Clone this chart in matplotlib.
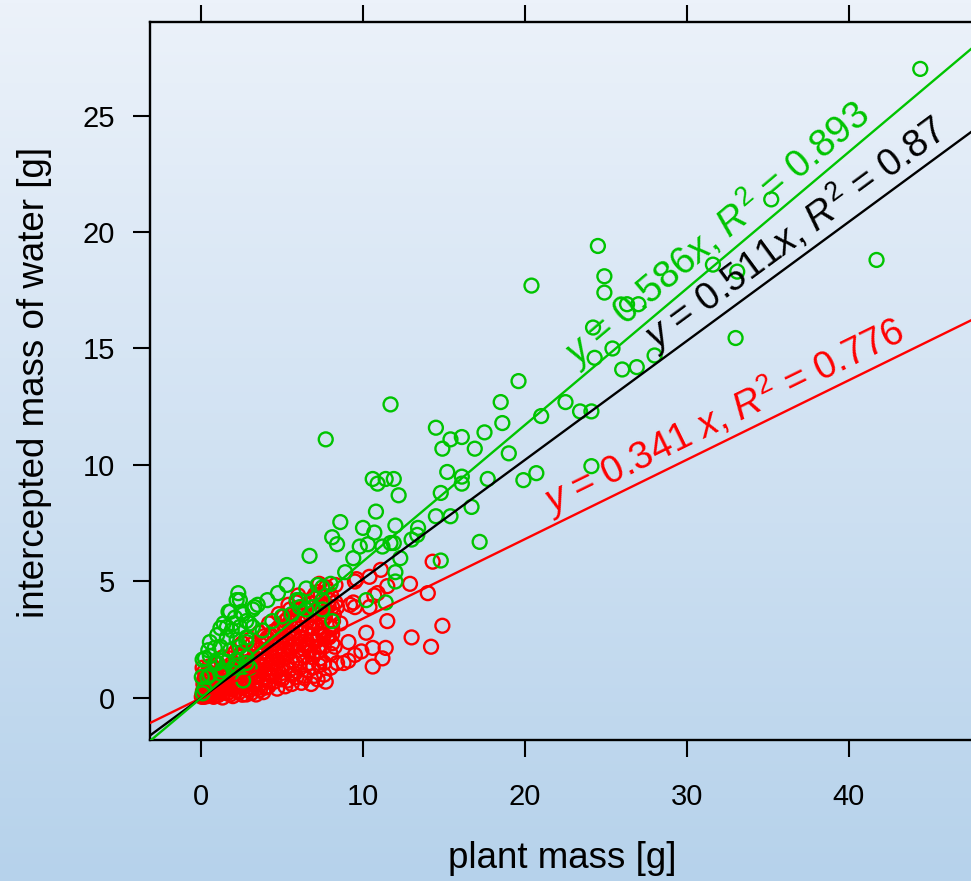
import numpy as np
import matplotlib
matplotlib.use("Agg")
import matplotlib.pyplot as plt
from matplotlib.colors import LinearSegmentedColormap

plt.rcParams['font.family'] = ['Liberation Sans', 'DejaVu Sans']
plt.rcParams['mathtext.fontset'] = 'custom'
plt.rcParams['mathtext.rm'] = 'Liberation Sans'
plt.rcParams['mathtext.it'] = 'Liberation Sans:italic'

# ---------------- data ----------------
xlabel = "plant mass [g]"
ylabel = "intercepted mass of water [g]"
xticks = [0, 10, 20, 30, 40]
yticks = [0, 5, 10, 15, 20, 25]

# green series (x, y)
green_pts = [
    (44.4, 27.0), (41.7, 18.8), (35.2, 21.4), (33.0, 15.45), (33.1, 18.3), (31.6, 18.6),
    (24.5, 19.4), (24.9, 18.1), (24.9, 17.4), (20.4, 17.7), (27.0, 16.9), (26.3, 16.9),
    (24.2, 15.9), (25.4, 15.0), (24.3, 14.6), (26.0, 14.1), (26.9, 14.2), (28.0, 14.7),
    (22.5, 12.7), (23.4, 12.3), (24.1, 12.3), (21.0, 12.1), (19.6, 13.6), (18.5, 12.7),
    (18.6, 11.8), (17.5, 11.4), (19.0, 10.5), (17.7, 9.4), (19.9, 9.35), (20.7, 9.65),
    (24.1, 9.95), (17.2, 6.7), (11.7, 12.6), (7.7, 11.1), (14.5, 11.6), (15.4, 11.1),
    (16.1, 11.2), (14.9, 10.7), (16.9, 10.7), (15.2, 9.7), (16.1, 9.5), (16.1, 9.2),
    (10.6, 9.4), (10.9, 9.2), (11.4, 9.4), (11.9, 9.4), (12.2, 8.7), (14.8, 8.8),
    (10.8, 8.0), (16.7, 8.2), (14.5, 7.8), (15.4, 7.8), (8.6, 7.55), (10.0, 7.3),
    (10.7, 7.1), (12.0, 7.4), (13.4, 7.3), (13.35, 7.0), (8.1, 6.9), (8.4, 6.6),
    (6.7, 6.1), (9.4, 6.0), (9.8, 6.5), (10.3, 6.6), (11.2, 6.5), (11.7, 6.65),
    (11.9, 6.65), (13.0, 6.8), (12.3, 6.0), (14.8, 5.9), (8.9, 5.4), (12.0, 5.4),
    (12.0, 5.0), (6.5, 4.7), (7.2, 4.85), (8.0, 4.9), (6.1, 4.2), (7.5, 4.2),
    (7.5, 3.8), (6.9, 3.9), (10.2, 4.2), (11.4, 4.1), (8.1, 3.3), (7.5, 4.75),
    (5.9, 4.2), (6.1, 3.9), (6.5, 3.8), (5.3, 4.85), (4.75, 4.5), (4.1, 4.2),
    (3.5, 4.0), (3.3, 3.9), (2.3, 4.5), (2.2, 4.2), (1.8, 3.7), (2.5, 3.7),
    (2.1, 3.45), (1.4, 3.2), (1.9, 2.9), (2.4, 3.05), (3.0, 3.2), (3.2, 3.05),
    (1.0, 2.7), (1.6, 2.6), (2.2, 2.5), (2.8, 2.6), (0.55, 2.4), (1.2, 2.2),
    (1.8, 2.05), (2.4, 2.2), (0.1, 1.65), (0.55, 1.8), (1.0, 1.5), (1.6, 1.55),
    (2.2, 1.65), (0.05, 0.9), (0.55, 1.0), (1.3, 1.2), (2.0, 1.3), (2.8, 1.75),
    (3.0, 1.3), (2.6, 0.75), (1.2, 3.0), (1.6, 3.05), (2.0, 3.2), (2.8, 3.3),
    (0.45, 2.05), (0.85, 2.15), (2.8, 2.4), (0.25, 1.7), (0.85, 1.5), (1.35, 1.6),
    (2.2, 1.4), (2.8, 1.5), (1.2, 1.05), (1.7, 3.7), (2.6, 3.6), (3.2, 3.8),
    (2.4, 4.2), (0.2, 0.4), (0.4, 0.9), (0.1, 0.2), (3.8, 2.9), (4.4, 3.3),
    (5.0, 3.5), (5.6, 3.6),
]

# red series (x, y)
red_pts = [
    (14.3, 5.85), (11.1, 5.5), (10.4, 5.2), (9.5, 5.0), (9.6, 5.1), (7.3, 4.9),
    (11.5, 4.8), (12.9, 4.9), (14.0, 4.5), (10.9, 4.5), (10.7, 4.4), (9.2, 4.0),
    (9.4, 4.1), (9.5, 3.9), (10.4, 3.9), (8.1, 3.9), (8.3, 4.1), (11.5, 3.3),
    (14.9, 3.1), (10.2, 2.8), (13.0, 2.6), (14.2, 2.2), (9.1, 2.4), (8.1, 2.35),
    (11.4, 2.15), (10.6, 2.15), (9.9, 2.0), (9.5, 1.85), (11.2, 1.7), (10.6, 1.35),
    (9.1, 1.6), (8.8, 1.5), (8.4, 1.5), (7.3, 1.4), (6.9, 1.3), (7.2, 0.8),
    (6.4, 0.85), (7.3, 2.0), (6.9, 1.75), (7.3, 2.7), (8.1, 3.0), (3.5, 0.43),
    (5.6, 1.0), (6.1, 1.7), (7.5, 3.3), (7.7, 3.7), (5.1, 3.5), (5.5, 3.8),
    (5.9, 4.1), (7.8, 4.6), (8.4, 3.9), (8.6, 3.2), (6.8, 0.6), (7.6, 1.0),
    (8.0, 1.9), (6.5, 2.3), (7.9, 2.6),
    (0.05, 0.05), (0.12, 0.30), (0.18, 0.10), (0.25, 0.55), (0.31, 0.22), (0.38, 0.08),
    (0.44, 0.41), (0.52, 0.75), (0.57, 0.15), (0.63, 0.33), (0.71, 0.60), (0.78, 0.05),
    (0.84, 0.95), (0.91, 0.27), (0.97, 0.48), (1.05, 0.12), (1.12, 0.70), (1.18, 1.15),
    (1.26, 0.35), (1.33, 0.02), (1.41, 0.88), (1.47, 0.52), (1.55, 1.30), (1.62, 0.20),
    (1.68, 0.66), (1.76, 1.02), (1.83, 0.41), (1.91, 1.48), (1.97, 0.08), (2.05, 0.80),
    (2.12, 1.21), (2.18, 0.30), (2.26, 1.65), (2.33, 0.57), (2.41, 0.98), (2.47, 1.38),
    (2.55, 0.14), (2.62, 1.83), (2.69, 0.72), (2.77, 1.12), (2.84, 0.40), (2.91, 1.55),
    (2.98, 2.00), (3.06, 0.88), (3.13, 0.22), (3.21, 1.30), (3.28, 1.76), (3.35, 0.60),
    (3.43, 2.18), (3.50, 1.02), (3.57, 1.48), (3.64, 0.35), (3.72, 1.92), (3.80, 2.40),
    (3.87, 0.78), (3.94, 1.22), (4.02, 1.68), (4.09, 2.58), (4.16, 0.50), (4.24, 2.10),
    (4.31, 1.00), (4.39, 1.45), (4.46, 2.85), (4.53, 0.70), (4.61, 1.88), (4.68, 2.35),
    (4.76, 1.20), (4.83, 3.05), (4.90, 0.90), (4.98, 1.65), (5.05, 2.62), (5.13, 2.10),
    (5.20, 3.30), (5.27, 1.35), (5.35, 0.75), (5.42, 1.92), (5.50, 2.85), (5.57, 3.55),
    (5.64, 1.55), (5.72, 2.32), (5.79, 1.05), (5.87, 3.10), (5.94, 2.05), (6.02, 3.75),
    (6.09, 1.28), (6.16, 2.60), (6.24, 3.38), (6.31, 1.80), (6.39, 0.95), (6.46, 2.95),
    (6.53, 4.00), (6.61, 2.25), (6.68, 1.50), (6.76, 3.55), (6.83, 2.70), (6.91, 4.30),
    (6.98, 1.95), (7.05, 3.20), (7.13, 2.45), (7.20, 4.55), (7.28, 3.80), (7.35, 1.70),
    (7.43, 2.90), (7.50, 4.20), (7.58, 2.20), (7.65, 3.45), (7.72, 4.75), (7.80, 2.60),
    (7.88, 3.95), (7.95, 3.10), (8.03, 4.40), (8.10, 2.75), (8.20, 3.60), (8.30, 4.85),
    (0.10, 0.15), (0.20, 0.05), (0.30, 0.40), (0.40, 0.20), (0.60, 0.50), (0.70, 0.25),
    (0.90, 0.10), (1.00, 0.60), (1.20, 0.20), (1.40, 0.45), (1.60, 0.90), (1.80, 0.15),
    (2.00, 0.50), (0.20, 0.80), (0.50, 1.10), (0.10, 1.30), (0.30, 1.00), (2.30, 2.20),
    (3.00, 2.50), (3.60, 2.80), (4.20, 3.20), (4.80, 3.60), (5.40, 4.00), (6.00, 4.40),
    (0.15, 0.60), (0.35, 0.70), (0.65, 0.90), (0.75, 0.40), (0.95, 0.75), (1.10, 0.40),
    (1.30, 0.65), (1.45, 0.25), (1.50, 0.75), (1.70, 0.40), (1.85, 0.75), (1.95, 1.10),
    (2.15, 0.60), (2.35, 0.25), (2.40, 1.20), (2.60, 0.45), (2.70, 1.40), (2.90, 0.65),
    (3.05, 1.60), (3.20, 0.45), (3.35, 0.95), (3.45, 1.55), (3.70, 0.60), (3.75, 1.40),
    (3.95, 2.00), (4.05, 0.90), (4.25, 1.30), (4.40, 2.30), (4.55, 1.10), (4.65, 1.55),
    (4.85, 2.40), (4.95, 1.25), (5.10, 1.85), (5.25, 2.55), (5.45, 1.20), (5.55, 2.20),
    (5.70, 2.75), (5.85, 1.50), (6.05, 2.30), (6.20, 3.00), (6.35, 2.10), (6.55, 3.30),
    (6.70, 2.00), (6.90, 3.00), (7.10, 3.60), (7.25, 2.20), (7.45, 3.95), (7.60, 1.50),
    (4.45, 0.95), (5.00, 0.80), (5.90, 0.90), (4.00, 0.45), (2.80, 0.15), (2.50, 1.95),
    (0.22, 1.15), (0.48, 1.35), (0.82, 1.25), (1.05, 1.45), (1.35, 1.75), (1.75, 1.70),
    (2.10, 1.95), (2.55, 2.35), (3.15, 2.30), (3.55, 2.05), (3.90, 2.65), (4.30, 2.70),
    (4.70, 2.95), (5.15, 3.05), (5.35, 3.40), (5.75, 3.30), (6.15, 3.55), (6.45, 3.85),
    (6.85, 4.05), (7.05, 4.45), (7.40, 4.45), (7.90, 4.20), (8.15, 3.30), (8.25, 2.20),
    (8.00, 1.30), (7.70, 0.70), (7.00, 0.95), (6.60, 1.20), (6.20, 0.65), (5.60, 0.60),
    (5.20, 0.50), (4.70, 0.40), (4.25, 0.70), (3.85, 0.25), (3.40, 0.15), (3.00, 0.35),
    (5.80, 2.55), (6.40, 2.55), (6.95, 2.45), (7.55, 2.65), (5.35, 2.25), (4.85, 2.05),
    (4.45, 1.75), (3.95, 1.55), (3.60, 1.15), (2.95, 1.05), (6.70, 3.05), (7.30, 3.05),
]

fit_slopes = [0.341, 0.511, 0.586]
fit_colors = ['#FF0000', '#000000', '#00C400']
fit_labels = [r"$y$ = 0.341 $x$, $R^2$ = 0.776",
              r"$y$ = 0.511$x$, $R^2$ = 0.87",
              r"$y$ = 0.586$x$, $R^2$ = 0.893"]
label_pos = [(32.6, 11.6), (37.1, 19.5), (32.3, 19.5)]

# ---------------- figure ----------------
fig = plt.figure(figsize=(9.71, 8.81), dpi=100)

bg = fig.add_axes([0, 0, 1, 1], zorder=-10)
grad = np.linspace(0, 1, 256).reshape(-1, 1)
cmap = LinearSegmentedColormap.from_list('bg', ['#ECF2FA', '#B6D2EB'])
bg.imshow(grad, aspect='auto', cmap=cmap, extent=[0, 1, 0, 1], origin='upper')
bg.axis('off')

ax = fig.add_axes([150 / 971, 141 / 881, 841 / 971, 718 / 881])
ax.set_facecolor('none')
ax.set_xlim(-3.148, -3.148 + 841 / 16.2)
ax.set_ylim(-1.803, 29.013)

rx, ry = zip(*red_pts)
gx, gy = zip(*green_pts)
ax.scatter(rx, ry, s=100, facecolors='none', edgecolors='#FF0000', linewidths=1.7, zorder=2)
ax.scatter(gx, gy, s=100, facecolors='none', edgecolors='#00C400', linewidths=1.7, zorder=3)

xs = np.array(ax.get_xlim())
for slope, col in zip(fit_slopes, fit_colors):
    ax.plot(xs, slope * xs, color=col, lw=1.7, zorder=4)

for slope, col, lab, (tx, ty) in zip(fit_slopes, fit_colors, fit_labels, label_pos):
    ax.text(tx, ty, lab, color=col, fontsize=27.5,
            rotation=np.degrees(np.arctan(slope)), transform_rotates_text=True,
            rotation_mode='anchor', ha='center', va='baseline', zorder=5)

ax.set_xticks(xticks)
ax.set_yticks(yticks)
ax.tick_params(direction='out', length=12, width=1.5, labelsize=21, colors='black')
ax.tick_params(axis='x', top=True, labeltop=False, pad=19)
ax.tick_params(axis='y', right=False, pad=13)
for s in ['left', 'bottom', 'top']:
    ax.spines[s].set_linewidth(1.7)
ax.spines['right'].set_visible(False)

ax.set_xlabel(xlabel, fontsize=26.5)
ax.set_ylabel(ylabel, fontsize=26.5)
ax.xaxis.set_label_coords(0.49, -0.140)
ax.yaxis.set_label_coords(-0.1165, 0.4986)

fig.savefig("out.png", dpi=100)
